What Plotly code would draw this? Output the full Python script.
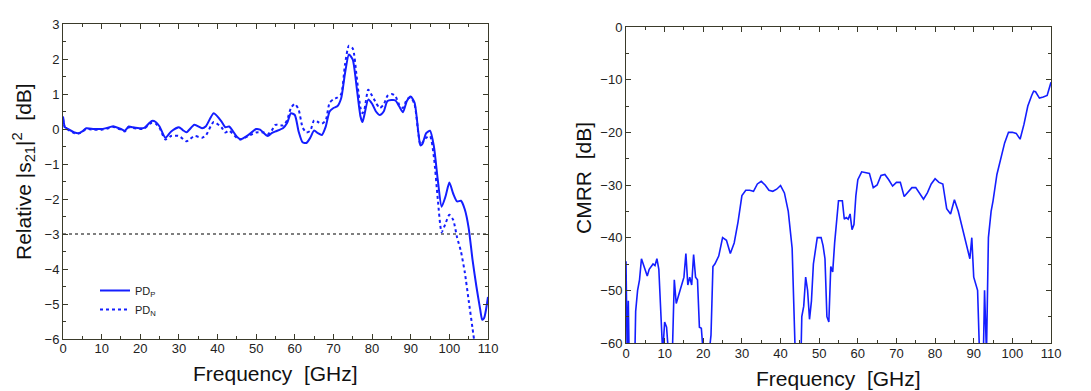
import plotly.graph_objects as go

# ---------------- Left panel data: relative |s21|^2 ----------------
freq_p = [0, 0.5, 1, 3, 4, 5, 6, 8, 10, 12, 13, 15, 16, 17, 18, 20, 21, 23, 24, 25,
          26.5, 28, 30, 31, 32, 34, 36, 37, 39, 41, 42, 43, 45, 46, 48, 50, 51, 53,
          54, 55, 57, 58, 59, 60, 61, 62, 63, 64, 65, 66, 67, 68, 69, 70, 71, 72,
          73, 74, 75, 76, 77, 77.5, 78, 79, 80, 81, 82, 83, 84, 86, 87, 88, 89, 90,
          91, 92, 92.5, 93, 94, 95, 96, 97, 98, 99, 100, 101, 102, 103, 104, 105,
          106, 107, 108, 108.5, 109, 110]
pd_p = [0.36, 0.05, 0.02, -0.1, -0.12, -0.07, 0.02, 0.0, 0.0, 0.05, 0.08, 0.0, -0.05,
        0.07, 0.05, 0.02, 0.03, 0.23, 0.2, 0.07, -0.25, -0.07, 0.05, -0.03, -0.09,
        0.12, 0.02, 0.08, 0.45, 0.22, 0.05, 0.07, -0.22, -0.29, -0.17, 0.0, -0.02,
        -0.2, -0.12, -0.07, 0.03, 0.17, 0.45, 0.4, -0.08, -0.38, -0.4, -0.25, -0.04,
        -0.12, -0.17, 0.07, 0.5, 0.6, 0.65, 0.88, 1.6, 2.13, 1.98, 1.2, 0.36, 0.2,
        0.4, 0.84, 0.72, 0.5, 0.4, 0.5, 0.8, 0.82, 0.65, 0.48, 0.8, 0.93, 0.75,
        -0.12, -0.47, -0.43, -0.12, -0.05, -0.5, -1.45, -2.22, -1.93, -1.53, -1.85,
        -2.07, -2.05, -2.3, -2.83, -3.74, -4.5, -5.17, -5.45, -5.4, -4.8]

freq_n = [0, 0.5, 1, 3, 4, 5, 6, 8, 10, 12, 13, 15, 16, 17, 18, 20, 21, 23, 24, 25,
          26.5, 28, 30, 32, 34, 36, 37, 39, 41, 42, 43, 45, 46, 48, 50, 52, 53, 54,
          55, 57, 58, 59, 60, 61, 62, 63, 64, 65, 66, 67, 68, 69, 70, 71, 72, 73,
          74, 75, 76, 77, 77.5, 78, 79, 80, 81, 82, 83, 84, 85, 86, 87, 88, 89, 90,
          91, 92, 92.5, 93, 94, 95, 96, 97, 98, 99, 100, 101, 102, 103, 104, 105,
          106, 107]
pd_n = [0.3, 0.03, 0.0, -0.12, -0.13, -0.08, 0.0, -0.02, -0.02, 0.03, 0.06, -0.02,
        -0.07, 0.05, 0.03, 0.0, 0.01, 0.18, 0.15, 0.03, -0.3, -0.2, -0.2, -0.35,
        -0.2, -0.25, -0.18, 0.2, 0.05, -0.1, -0.05, -0.25, -0.3, -0.2, -0.1, -0.1,
        -0.15, -0.05, 0.12, 0.1, 0.25, 0.6, 0.72, 0.55, 0.05, -0.1, -0.05, 0.25, 0.2,
        0.15, 0.25, 0.75, 0.85, 0.9, 1.0, 1.85, 2.38, 2.3, 1.5, 0.6, 0.45, 0.55, 1.12,
        0.95, 0.75, 0.6, 0.7, 0.95, 1.0, 0.95, 0.7, 0.6, 0.85, 0.9, 0.7, -0.15, -0.45,
        -0.4, -0.25, -0.2, -0.8, -2.0, -2.95, -2.7, -2.45, -2.6, -3.1, -3.5, -4.1,
        -4.9, -5.7, -6.5]

threshold_x = [0, 110]
threshold_y = [-3, -3]

# ---------------- Right panel data: CMRR ----------------
freq_c = [0, 0.3, 0.6, 0.8, 2.3, 2.5, 3, 3.5, 4, 5, 5.5, 6, 7, 7.5, 8, 8.5, 9, 9.5,
          10, 10.5, 11, 12, 12.5, 13, 14, 15, 15.5, 16, 16.5, 17, 17.5, 18, 18.5, 19,
          19.5, 20, 21.5, 22, 22.5, 23, 24, 25, 26, 27, 28, 29, 30, 31, 32, 33, 34,
          35, 36, 37, 38, 39, 40, 41, 42, 43, 43.8, 45.3, 45.5, 46, 46.5, 47, 47.5,
          48, 48.5, 49, 49.5, 50.5, 51, 51.5, 52, 52.5, 53, 53.5, 54, 55, 56, 56.5,
          57, 57.5, 58, 58.5, 59, 59.5, 60, 61, 62, 63, 64, 65, 66, 67, 68, 69, 70,
          71, 72, 73, 74, 75, 76, 77, 78, 79, 80, 81, 82, 83, 84, 85, 86, 87, 88, 89,
          89.5, 90, 91, 91.5, 92.5, 92.8, 93.3, 93.8, 94.5, 95, 96, 97, 98, 99, 100,
          101, 102, 103, 104, 105, 105.5, 106, 107, 108, 109, 110]
cmrr = [-44.5, -62, -52, -62, -62, -54, -50, -48, -44, -46, -47.3, -46, -45, -45.3,
        -44, -46, -53, -62, -56, -57, -62, -62, -48, -52.5, -50, -47.5, -43, -49,
        -47.5, -49, -43.2, -47.5, -48, -57, -57.2, -62, -62, -58.5, -45.5, -45, -43.5,
        -40, -40.5, -43, -41, -37, -32, -31, -31, -31.2, -29.8, -29.3, -30, -31,
        -31.2, -30.8, -30.1, -31.5, -35, -42, -62, -62, -55, -53, -47.5, -50, -55.5,
        -52, -45, -42, -40, -40, -41.5, -44, -55, -56, -45.5, -46.5, -41, -33, -33,
        -36.5, -36.2, -36.5, -35.5, -38.5, -37.5, -32, -29, -27.5, -27.7, -27.8,
        -30.5, -30, -28.2, -28, -29, -30.2, -29.5, -29.5, -32.2, -31.3, -30.5, -30.5,
        -31.5, -32.7, -31.5, -29.8, -28.8, -29.5, -29.8, -34.5, -35.5, -32.8, -35,
        -38, -40.5, -44, -40, -47.5, -50, -62, -62, -50, -62, -40, -35, -33, -28,
        -25, -22, -20, -20, -20.2, -21.3, -18.5, -15, -13, -12.2, -12.3, -13.5,
        -13.3, -13, -10.5]

x_ticks = [0, 10, 20, 30, 40, 50, 60, 70, 80, 90, 100, 110]

BLUE = "rgb(20,30,255)"
FRAME = "#3a3a2a"
FONT = "Liberation Sans, Arial, sans-serif"
W, H = 1091, 391
OFF = 8  # page body margin offset in the screenshot

def px_x(p):
    return (p - OFF) / W

def px_y(p):
    return (H - (p - OFF)) / H

fig = go.Figure()

fig.add_trace(go.Scatter(x=threshold_x, y=threshold_y, mode="lines",
                         line=dict(color="black", width=1.2, dash="dot"),
                         showlegend=False, xaxis="x", yaxis="y", hoverinfo="skip"))
fig.add_trace(go.Scatter(x=freq_p, y=pd_p, mode="lines", name="PD<sub>P</sub>",
                         line=dict(color=BLUE, width=2, shape="spline", smoothing=0.6),
                         xaxis="x", yaxis="y"))
fig.add_trace(go.Scatter(x=freq_n, y=pd_n, mode="lines", name="PD<sub>N</sub>",
                         line=dict(color=BLUE, width=2, dash="3px,3px", shape="spline",
                                   smoothing=0.6),
                         xaxis="x", yaxis="y"))
fig.add_trace(go.Scatter(x=freq_c, y=cmrr, mode="lines", showlegend=False,
                         line=dict(color=BLUE, width=1.6),
                         xaxis="x2", yaxis="y2"))

def axis_common():
    return dict(showline=True, linecolor=FRAME, linewidth=1, mirror="allticks",
                ticks="inside", ticklen=5, tickcolor=FRAME, tickwidth=1,
                showgrid=False, zeroline=False, automargin=False,
                tickfont=dict(family=FONT, size=13, color="#222"),
                minor=dict(ticks="inside", ticklen=3, tickcolor=FRAME, showgrid=False))

TITLE_FONT = dict(family=FONT, size=21, color="#111")

xa = axis_common()
xa.update(domain=[px_x(63), px_x(488)], range=[0, 110], tickvals=x_ticks, anchor="y",
          ticklabelstandoff=-3)
xa["minor"]["dtick"] = 5
xa["minor"]["tick0"] = 0
ya = axis_common()
ya.update(domain=[px_y(339), px_y(24)], range=[-6, 3], dtick=1, anchor="x")
ya["minor"]["dtick"] = 0.5
ya["minor"]["tick0"] = 0

xa2 = axis_common()
xa2.update(domain=[px_x(626), px_x(1051)], range=[0, 110], tickvals=x_ticks, anchor="y2",
           ticklabelstandoff=-2)
xa2["minor"]["dtick"] = 5
xa2["minor"]["tick0"] = 0
ya2 = axis_common()
ya2.update(domain=[px_y(343), px_y(27)], range=[-60, 0], dtick=10, anchor="x2")
ya2["minor"]["dtick"] = 5
ya2["minor"]["tick0"] = 0

titles = [
    dict(text="Frequency  [GHz]", x=px_x(275), y=px_y(373), textangle=0),
    dict(text="Frequency  [GHz]", x=px_x(838), y=px_y(378), textangle=0),
    dict(text="Relative |s<sub>21</sub>|<sup>2</sup>  [dB]", x=px_x(23), y=px_y(172),
         textangle=-90),
    dict(text="CMRR  [dB]", x=px_x(583), y=px_y(178), textangle=-90),
]
annotations = [dict(xref="paper", yref="paper", xanchor="center", yanchor="middle",
                    showarrow=False, font=TITLE_FONT, **t) for t in titles]

fig.update_layout(
    width=W, height=H,
    margin=dict(l=0, r=0, t=0, b=0),
    paper_bgcolor="white", plot_bgcolor="white",
    xaxis=xa, yaxis=ya, xaxis2=xa2, yaxis2=ya2,
    font=dict(family=FONT),
    annotations=annotations,
    legend=dict(x=px_x(95), y=px_y(276), xanchor="left", yanchor="top",
                bgcolor="rgba(0,0,0,0)", font=dict(family=FONT, size=11, color="#222"),
                tracegroupgap=0, itemwidth=30),
    showlegend=True,
)

fig.write_html("out.html")
